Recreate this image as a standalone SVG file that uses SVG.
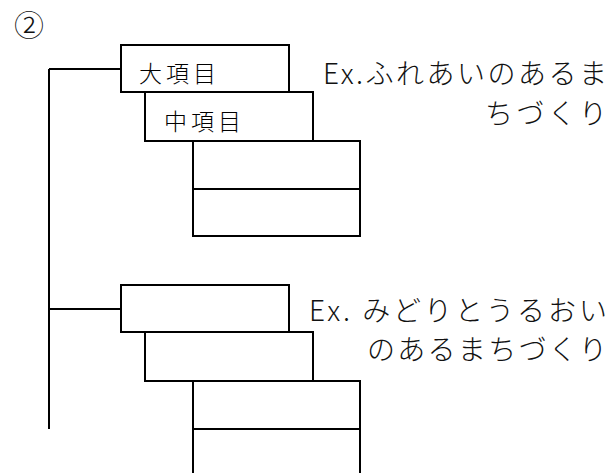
<svg xmlns="http://www.w3.org/2000/svg" width="616" height="473" viewBox="0 0 616 473">
<style>
.box{fill:#fff;stroke:#000;stroke-width:2}
.ln{fill:none;stroke:#000;stroke-width:2}
.lbl{font-family:"Noto Sans CJK JP","Noto Sans",sans-serif;font-size:23px;fill:#000;font-weight:300}
.ex{font-family:"Noto Sans CJK JP","Noto Sans",sans-serif;font-size:28px;fill:#111;font-weight:300}
</style>
<rect width="616" height="473" fill="#fff"/>
<text x="29" y="36" text-anchor="middle" class="ex" style="font-size:30px">②</text>
<g id="connectors">
<path class="ln" d="M49,69 V429 M49,69 H121 M49,309 H121"/>
</g>
<g id="group1">
<g id="n1"><rect class="box" x="121" y="45" width="168" height="47"/><text class="lbl" x="139" y="82" textLength="77">大項目</text></g>
<g id="n2"><rect class="box" x="145" y="92" width="168" height="49"/><text class="lbl" x="164" y="130" textLength="77">中項目</text></g>
<g id="n3"><rect class="box" x="193" y="141" width="167" height="48"/></g>
<g id="n4"><rect class="box" x="193" y="189" width="167" height="47"/></g>
<g id="t1"><text class="ex" x="323" y="84" textLength="284">Ex.ふれあいのあるま</text><text class="ex" x="485" y="124" textLength="122">ちづくり</text></g>
</g>
<g id="group2">
<g id="n5"><rect class="box" x="121" y="285" width="168" height="47"/></g>
<g id="n6"><rect class="box" x="145" y="332" width="168" height="49"/></g>
<g id="n7"><rect class="box" x="193" y="381" width="167" height="48"/></g>
<g id="n8"><path class="ln" d="M193,429 H360 M193,429 V475 M360,429 V475"/></g>
<g id="t2"><text class="ex" x="309" y="321" textLength="298">Ex. みどりとうるおい</text><text class="ex" x="367" y="360" textLength="240">のあるまちづくり</text></g>
</g>
</svg>
